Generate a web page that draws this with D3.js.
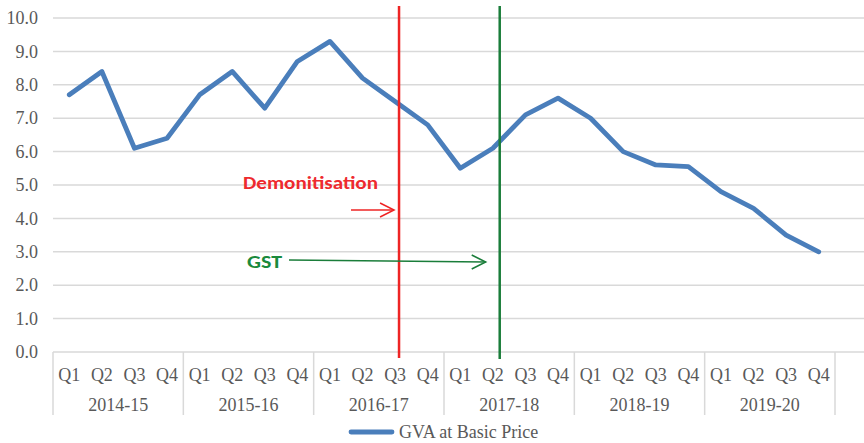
<!DOCTYPE html>
<html>
<head>
<meta charset="utf-8">
<script src="https://cdn.jsdelivr.net/npm/d3@7"></script>
<style>
  html, body { margin: 0; padding: 0; background: #fff; }
  svg { display: block; }
  .serif { font-family: "Liberation Serif", "Times New Roman", serif; font-size: 18px; fill: #595959; }
</style>
</head>
<body>
<div id="chart"></div>
<script>
// ---- data ----
const years = ["2014-15", "2015-16", "2016-17", "2017-18", "2018-19", "2019-20"];
const quarters = ["Q1", "Q2", "Q3", "Q4"];
const gva = [7.7, 8.4, 6.1, 6.4,
             7.7, 8.4, 7.3, 8.7,
             9.3, 8.2, 7.5, 6.8,
             5.5, 6.1, 7.1, 7.6,
             7.0, 6.0, 5.6, 5.55,
             4.8, 4.3, 3.5, 3.0];
const yTicks = [0, 1, 2, 3, 4, 5, 6, 7, 8, 9, 10];
const seriesName = "GVA at Basic Price";
const events = [
  { label: "Demonitisation", year: "2016-17", quarter: "Q3" },
  { label: "GST", year: "2017-18", quarter: "Q2" }
];

// ---- layout ----
const W = 864, H = 443;
const mLeft = 53, plotRight = 864, catRight = 835;
const mTop = 18, mBottom = 352;

const cats = [];
years.forEach(yr => quarters.forEach(q => cats.push(yr + " " + q)));
const data = cats.map((c, i) => ({ cat: c, value: gva[i] }));

const x = d3.scaleBand().domain(cats).range([mLeft, catRight]).padding(0);
const xYear = d3.scaleBand().domain(years).range([mLeft, catRight]).padding(0);
const y = d3.scaleLinear().domain([0, 10]).range([mBottom, mTop]);

const svg = d3.select("#chart").append("svg").attr("width", W).attr("height", H);

const gray = "#d9d9d9";

// gridlines
svg.append("g").selectAll("line").data(yTicks.filter(d => d > 0)).join("line")
  .attr("x1", mLeft).attr("x2", plotRight)
  .attr("y1", d => y(d)).attr("y2", d => y(d))
  .attr("stroke", gray).attr("stroke-width", 1.5);

// y axis labels
const yAxis = d3.axisLeft(y).tickValues(yTicks).tickFormat(d3.format(".1f")).tickSize(0).tickPadding(15);
const yg = svg.append("g").attr("transform", `translate(${mLeft},0)`).call(yAxis);
yg.attr("font-family", null).attr("font-size", null);
yg.select(".domain").remove();
yg.selectAll("text").attr("class", "serif").attr("fill", null);

// x axis line
svg.append("line").attr("x1", mLeft).attr("x2", plotRight).attr("y1", mBottom).attr("y2", mBottom)
  .attr("stroke", gray).attr("stroke-width", 1.5);

// group separators
const seps = years.map(yr => xYear(yr)).concat([catRight]);
svg.append("g").selectAll("line").data(seps).join("line")
  .attr("x1", d => d).attr("x2", d => d).attr("y1", mBottom).attr("y2", 415)
  .attr("stroke", gray).attr("stroke-width", 1.5);

// quarter labels
svg.append("g").selectAll("text").data(cats).join("text")
  .attr("class", "serif")
  .attr("x", d => x(d) + x.bandwidth() / 2).attr("y", 381)
  .attr("text-anchor", "middle").text(d => d.split(" ")[1]);

// year labels
svg.append("g").selectAll("text").data(years).join("text")
  .attr("class", "serif")
  .attr("x", d => xYear(d) + xYear.bandwidth() / 2).attr("y", 411)
  .attr("text-anchor", "middle").text(d => d);

// series line
const line = d3.line().x(d => x(d.cat) + x.bandwidth() / 2).y(d => y(d.value));
svg.append("path").datum(data).attr("d", line)
  .attr("fill", "none").attr("stroke", "#4a7ebb").attr("stroke-width", 4.8)
  .attr("stroke-linejoin", "round").attr("stroke-linecap", "round");

// event lines
const red = "#ee2424", green = "#1a7d3a";
const demoX = x(events[0].year + " " + events[0].quarter) + x.bandwidth() * 0.62;
const gstX = x(events[1].year + " " + events[1].quarter) + x.bandwidth() * 0.71;
svg.append("line").attr("x1", demoX).attr("x2", demoX).attr("y1", 6).attr("y2", 358)
  .attr("stroke", red).attr("stroke-width", 2.5);
svg.append("line").attr("x1", gstX).attr("x2", gstX).attr("y1", 6).attr("y2", 359)
  .attr("stroke", green).attr("stroke-width", 2.5);

// annotations
const sans = "Carlito, 'Open Sans', 'Liberation Sans', sans-serif";
svg.append("text").attr("x", 243).attr("y", 189)
  .attr("font-family", sans).attr("font-weight", "bold").attr("font-size", 18)
  .attr("textLength", 135).attr("lengthAdjust", "spacingAndGlyphs")
  .attr("fill", "#ee2a2e").text(events[0].label);
svg.append("text").attr("x", 247).attr("y", 268)
  .attr("font-family", sans).attr("font-weight", "bold").attr("font-size", 18)
  .attr("textLength", 35).attr("lengthAdjust", "spacingAndGlyphs")
  .attr("fill", "#1a8a3c").text(events[1].label);

// arrows
function arrow(x1, y1, x2, y2, color) {
  const g = svg.append("g").attr("stroke", color).attr("stroke-width", 1.5).attr("fill", "none");
  g.append("line").attr("x1", x1).attr("y1", y1).attr("x2", x2).attr("y2", y2);
  g.append("polyline").attr("points", `${x2 - 14},${y2 - 7} ${x2},${y2} ${x2 - 14},${y2 + 7}`);
}
arrow(351, 210, demoX - 5, 210, red);
arrow(289, 260, gstX - 14, 262, green);

// legend
svg.append("line").attr("x1", 351).attr("x2", 392).attr("y1", 432).attr("y2", 432)
  .attr("stroke", "#4a7ebb").attr("stroke-width", 4.8).attr("stroke-linecap", "round");
svg.append("text").attr("class", "serif").attr("x", 399).attr("y", 438).text(seriesName);
</script>
</body>
</html>
